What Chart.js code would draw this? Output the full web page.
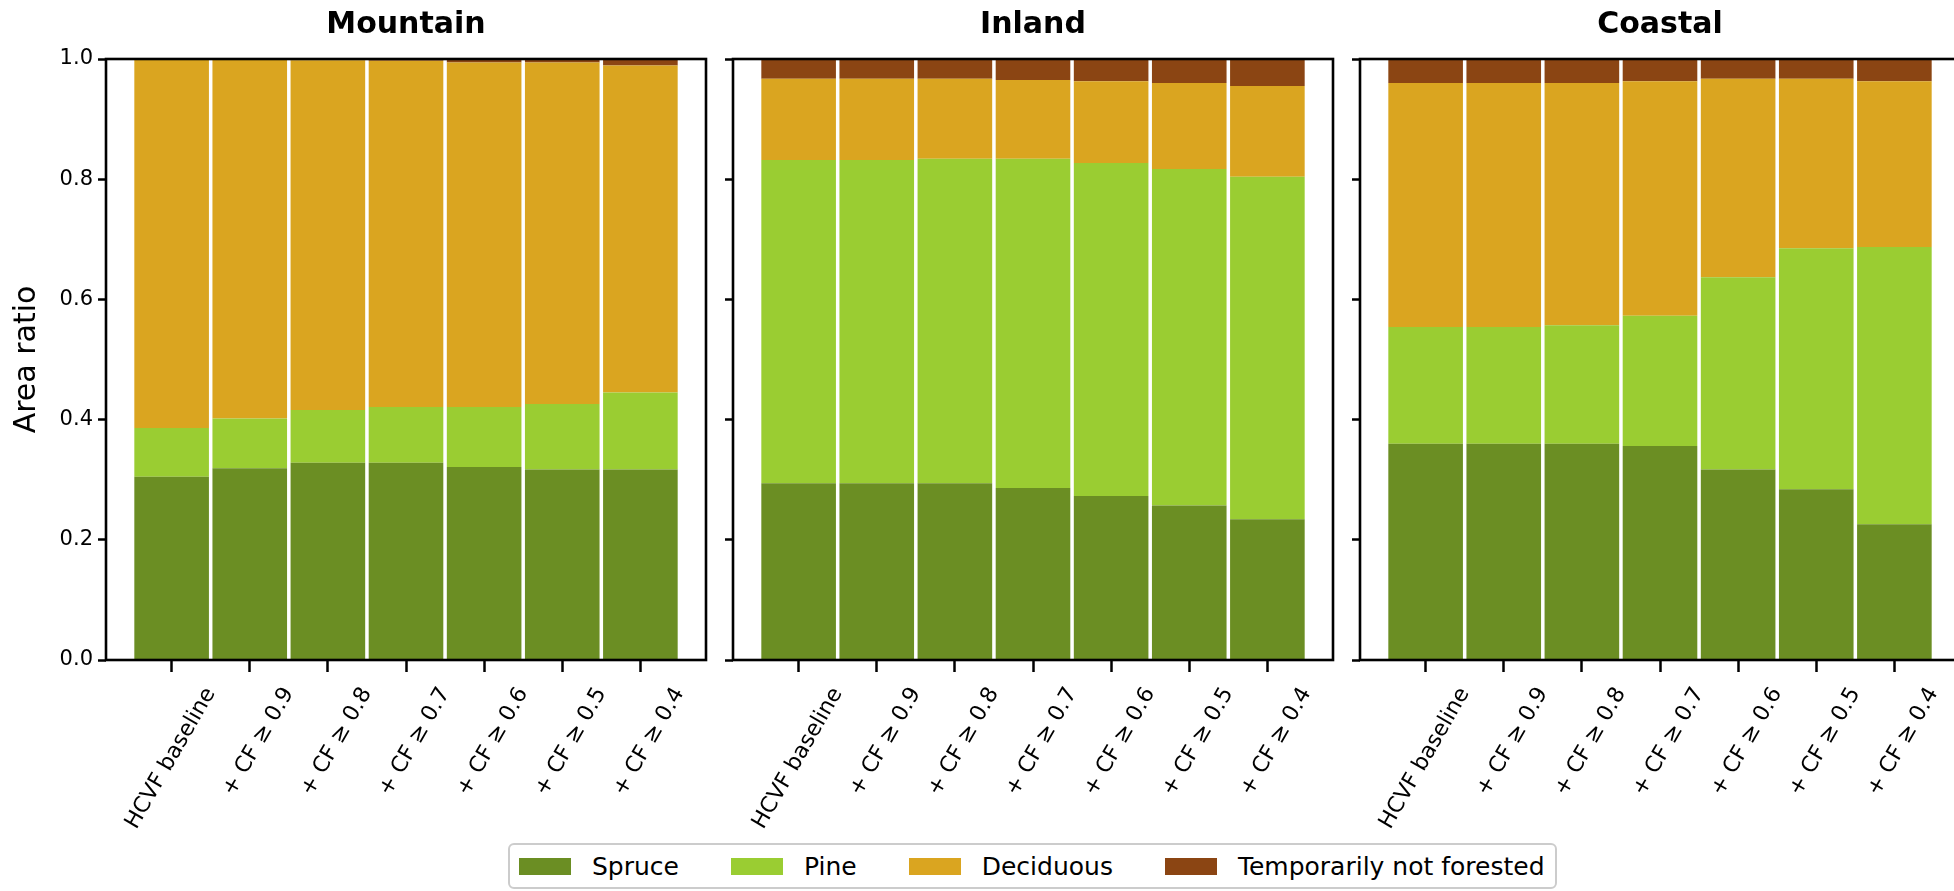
<!DOCTYPE html>
<html>
<head>
<meta charset="utf-8">
<title>Area ratio by region</title>
<script src="https://cdn.jsdelivr.net/npm/chart.js@4.4.1/dist/chart.umd.min.js"></script>
<style>
  html, body { margin: 0; padding: 0; background: #fff; }
  body { width: 1954px; height: 891px; overflow: hidden; position: relative; font-family: "DejaVu Sans", sans-serif; }
  canvas { position: absolute; top: 0; }
  #legend {
    position: absolute; left: 508px; top: 843px; height: 42px;
    border: 2px solid #cccccc; border-radius: 6px; background: #fff;
    display: flex; align-items: center; gap: 52px; padding: 0 10px 0 9px;
    font-size: 25px; color: #000; white-space: nowrap;
  }
  .item { display: flex; align-items: center; gap: 21px; }
  .swatch { display: inline-block; width: 52px; height: 17px; }
</style>
</head>
<body>
<canvas id="mountainChart"></canvas>
<canvas id="inlandChart"></canvas>
<canvas id="coastalChart"></canvas>
<div id="legend"></div>
<script>
const regions = ["Mountain", "Inland", "Coastal"];
const scenarios = ["HCVF baseline", "+ CF ≥ 0.9", "+ CF ≥ 0.8", "+ CF ≥ 0.7", "+ CF ≥ 0.6", "+ CF ≥ 0.5", "+ CF ≥ 0.4"];
const speciesNames = ["Spruce", "Pine", "Deciduous", "Temporarily not forested"];
const speciesColors = ["#6b8e23", "#9acd32", "#daa520", "#8b4513"];
const yTicks = [0, 0.2, 0.4, 0.6, 0.8, 1.0];

// area ratios read per scenario
const mountainSpruce    = [0.305, 0.319, 0.328, 0.328, 0.321, 0.317, 0.317];
const mountainPine      = [0.081, 0.083, 0.088, 0.093, 0.100, 0.109, 0.128];
const mountainDeciduous = [0.613, 0.597, 0.582, 0.576, 0.573, 0.568, 0.544];
const mountainOpen      = [0.001, 0.001, 0.002, 0.003, 0.006, 0.006, 0.011];

const inlandSpruce    = [0.294, 0.294, 0.294, 0.286, 0.273, 0.257, 0.234];
const inlandPine      = [0.538, 0.538, 0.540, 0.548, 0.554, 0.560, 0.570];
const inlandDeciduous = [0.135, 0.135, 0.133, 0.131, 0.136, 0.143, 0.151];
const inlandOpen      = [0.033, 0.033, 0.033, 0.035, 0.037, 0.040, 0.045];

const coastalSpruce    = [0.360, 0.360, 0.360, 0.356, 0.317, 0.284, 0.226];
const coastalPine      = [0.194, 0.194, 0.197, 0.217, 0.320, 0.401, 0.461];
const coastalDeciduous = [0.406, 0.406, 0.403, 0.390, 0.330, 0.282, 0.276];
const coastalOpen      = [0.040, 0.040, 0.040, 0.037, 0.033, 0.033, 0.037];

const regionSeries = {
    Mountain: [mountainSpruce, mountainPine, mountainDeciduous, mountainOpen],
    Inland: [inlandSpruce, inlandPine, inlandDeciduous, inlandOpen],
    Coastal: [coastalSpruce, coastalPine, coastalDeciduous, coastalOpen]
};

Chart.defaults.font.family = "'DejaVu Sans', sans-serif";
Chart.defaults.color = "#000";

const plotWidth = 600;
const rightPad = 10;
const panels = [
    { canvas: "mountainChart", plotLeft: 106, axisWidth: 106, showLabels: true },
    { canvas: "inlandChart", plotLeft: 733, axisWidth: 60, showLabels: false },
    { canvas: "coastalChart", plotLeft: 1360, axisWidth: 60, showLabels: false }
];

// box around each plot area (all four spines)
const frame = {
    id: "frame",
    afterDatasetsDraw(chart) {
        const { ctx, chartArea: a } = chart;
        ctx.save();
        ctx.strokeStyle = "#000";
        ctx.lineWidth = 2.6;
        ctx.strokeRect(a.left, a.top, a.right - a.left, a.bottom - a.top);
        ctx.restore();
    }
};

regions.forEach((region, r) => {
    const panel = panels[r];
    const canvas = document.getElementById(panel.canvas);
    canvas.width = panel.axisWidth + plotWidth + rightPad;
    canvas.height = 891;
    canvas.style.left = (panel.plotLeft - panel.axisWidth) + "px";

    const series = regionSeries[region];

    new Chart(canvas, {
        type: "bar",
        data: {
            datasets: speciesNames.map((name, k) => ({
                label: name,
                data: series[k].map((v, i) => ({ x: i, y: v })),
                backgroundColor: speciesColors[k],
                borderWidth: 0,
                barPercentage: 0.955,
                categoryPercentage: 1.0
            }))
        },
        options: {
            responsive: false,
            animation: false,
            layout: { padding: { left: 0, right: rightPad, top: 0, bottom: 31 } },
            plugins: {
                legend: { display: false },
                tooltip: { enabled: false },
                title: {
                    display: true,
                    text: region,
                    fullSize: false,
                    color: "#000",
                    font: { size: 30, weight: "bold" },
                    padding: { top: 7, bottom: 16 }
                }
            },
            scales: {
                x: {
                    type: "linear",
                    stacked: true,
                    min: -0.84,
                    max: 6.84,
                    offset: false,
                    afterBuildTicks: axis => { axis.ticks = scenarios.map((s, i) => ({ value: i })); },
                    afterFit: axis => { axis.height = 200; },
                    grid: { display: true, offset: false, drawOnChartArea: false, drawTicks: true, tickLength: 12, tickWidth: 2.5, tickColor: "#000" },
                    border: { display: false },
                    ticks: {
                        autoSkip: false,
                        minRotation: 60,
                        maxRotation: 60,
                        padding: 11,
                        labelOffset: 39,
                        color: "#000",
                        font: { size: 22 },
                        callback: v => scenarios[v]
                    }
                },
                y: {
                    stacked: true,
                    min: 0,
                    max: 1,
                    afterBuildTicks: axis => { axis.ticks = yTicks.map(v => ({ value: v })); },
                    afterFit: axis => { axis.width = panel.axisWidth; },
                    grid: { display: true, offset: false, drawOnChartArea: false, drawTicks: true, tickLength: 8, tickWidth: 2.5, tickColor: "#000" },
                    border: { display: false },
                    ticks: {
                        display: panel.showLabels,
                        padding: 5,
                        color: "#000",
                        font: { size: 21 },
                        callback: v => v.toFixed(1)
                    },
                    title: {
                        display: panel.showLabels,
                        text: "Area ratio",
                        color: "#000",
                        font: { size: 30 },
                        padding: { top: 9, bottom: 0 }
                    }
                }
            }
        },
        plugins: [frame]
    });
});

// shared legend under the panels
const legendBox = document.getElementById("legend");
speciesNames.forEach((name, k) => {
    legendBox.insertAdjacentHTML("beforeend",
        `<div class="item"><span class="swatch" style="background:${speciesColors[k]}"></span><span>${name}</span></div>`);
});
</script>
</body>
</html>
